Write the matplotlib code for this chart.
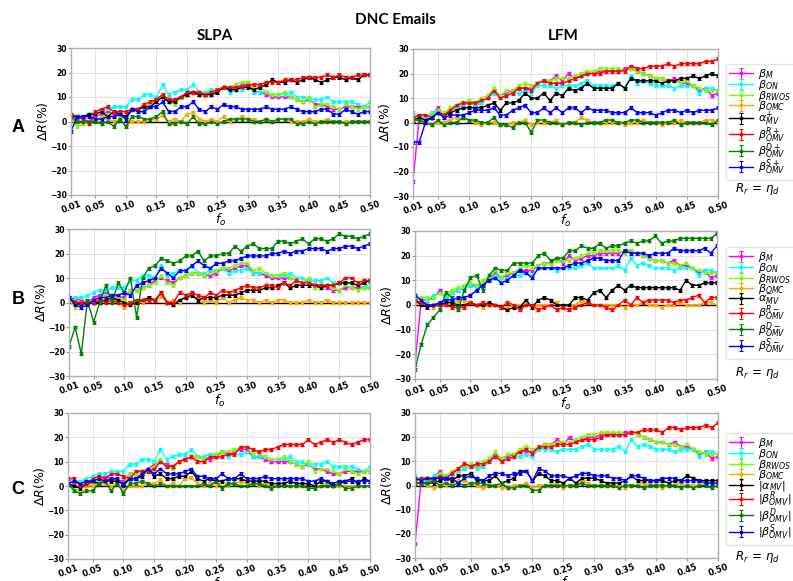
import numpy as np
import matplotlib
matplotlib.use("Agg")
import matplotlib.pyplot as plt

# ---------------------------------------------------------------- data
f_o = np.arange(1, 51) / 100
xticks = [0.01, 0.05, 0.10, 0.15, 0.20, 0.25, 0.30, 0.35, 0.40, 0.45, 0.50]
xtick_labels = ["0.01", "0.05", "0.10", "0.15", "0.20", "0.25",
                "0.30", "0.35", "0.40", "0.45", "0.50"]
yticks = [-30, -20, -10, 0, 10, 20, 30]

# baselines, SLPA column
slpa_M = [2, 1.5, 1, 0, 2, 3, 4, 3, 2.5, 2,
          5, 5, 6, 7, 9, 10, 9, 8, 10, 11,
          12, 12, 11, 11, 12, 14, 13, 14, 15, 15,
          12, 12, 11, 10, 10, 10, 10, 9, 8, 9,
          7, 7, 6, 5, 5, 6, 6, 6, 6, 6]
slpa_ON = [2, 2, 2, 3, 4, 5, 5, 6, 6, 6,
           9, 9, 11, 11, 10, 15, 11, 12, 13, 13,
           15, 12, 12, 13, 13, 14, 12, 13, 13, 14,
           12, 12, 12, 11, 11, 11, 12, 10, 10, 9,
           9, 9, 10, 8, 8, 8, 8, 7, 6, 8]
slpa_RWOS = [1, -2, -1, 0, 1, 2, 3, 2, 2, 1,
             5, 5, 6, 7, 8, 11, 8, 7, 10, 11,
             12, 12, 11, 12, 13, 14, 14, 15, 16, 16,
             13, 14, 12, 11, 11, 12, 10, 9, 8, 10,
             6, 7, 7, 6, 5, 7, 6, 5, 6, 6]
slpa_OMC = [1, 0, 0, 0, 0, 1, 1, 0, 1, -2,
            0, 0, 0, 1, 1, 2.5, 0, 1, 0, 3,
            3.5, 1, 0, 1, 0, 2, 0, 1, 2, 1,
            1, 0, 1, 0, 1, 1, 0, 0, 0, 1,
            0, 0, 1, 0, 0, 0, 0, 0, 0, 0]

# baselines, LFM column
lfm_M = [-24, 2, 2, 3, 6, 3, 5, 6, 7, 8,
         8, 8, 10, 13, 11, 12, 13, 14, 14, 14,
         16, 17, 17, 19, 17, 20, 18, 19, 20, 20,
         21, 21, 21, 21, 22, 22, 21, 20, 19, 18,
         18, 17, 18, 16, 16, 15, 13, 14, 11, 12]
lfm_ON = [4, 2, 2, 4, 5, 3, 5, 6, 7, 8,
          7, 8, 10, 12, 10, 11, 12, 12, 13, 12,
          15, 15, 15, 14, 15, 15, 15, 16, 17, 15,
          15, 15, 15, 16, 14, 19, 16, 17, 16, 15,
          15, 15, 14, 15, 15, 15, 12, 14, 14, 13]
lfm_RWOS = [2, 3, 3, 3, 5, 4, 6, 7, 8, 9,
            8, 10, 11, 14, 11, 13, 13, 15, 16, 15,
            16, 17, 17, 18, 18, 18, 19, 20, 21, 21,
            22, 22, 22, 22, 21, 22, 21, 20, 19, 18,
            18, 17, 17, 16, 17, 15, 14, 13, 13, 13]
lfm_OMC = [1, 1, 0, -1, 0, 0, 1, 2, 2, 1,
           0, -1, 0, 0, -1, -1, 0, 0, 1, -1,
           0, 0, 0, 1, -1, 0, 0, 2, 1, 0,
           0, 0, 0, 0, -1, 0, 0, 1, 0, 0,
           -1, 0, 0, 1, 0, 0, 0, 1, 1, 0]

# row A (positive components)
slpa_A_alpha = [2, 2, 2, 3, 3, 4, 2, 4, 3, 2,
                5, 5, 6, 6, 8, 10, 8, 8, 10, 11,
                12, 11, 11, 11, 12, 14, 13, 13, 14, 14,
                13, 14, 15, 17, 16, 16, 17, 16, 17, 18,
                17, 16, 17, 18, 18, 17, 18, 17, 19, 19]
slpa_A_R = [3, 2, 1, -1, 4, 5, 6, 4, 4, 4,
            5, 5, 7, 8, 9, 11, 9, 9, 10, 12,
            12, 12, 11, 12, 13, 14, 14, 14, 14, 15,
            15, 15, 16, 16, 16, 17, 17, 17, 18, 18,
            18, 18, 19, 18, 19, 18, 18, 19, 19, 19]
slpa_A_D = [2, 0, 0, 0, 0, -1, 0, -2, 1, -2,
            2, 2, 1, 1, 2, 4, -1, -1, 0, -1,
            2, -1, -1, 0, -1, 0, 1, 1, 1, 1,
            0, 0, 1, 0, 1, 1, 1, -1, -1, 0,
            -1, 0, 0, 0, 0, -1, 0, 0, 0, 0]
slpa_A_S = [-4, 2, 2, 2, 1, 1, 2, 2, 3, 1,
            5, 4, 4, 6, 6, 8, 4, 4, 6, 6,
            8, 5, 4, 6, 5, 7, 6, 6, 5, 5,
            5, 5, 6, 5, 5, 5, 6, 5, 4, 4,
            4, 5, 5, 3, 3, 5, 4, 3, 4, 4]
lfm_A_alpha = [1, 2, 1, 2, 4, 3, 4, 5, 6, 6,
               6, 6, 7, 8, 5, 8, 8, 9, 12, 10,
               10, 12, 9, 12, 11, 14, 13, 14, 16, 14,
               14, 14, 14, 16, 14, 18, 17, 17, 17, 17,
               16, 17, 17, 18, 18, 19, 18, 19, 20, 19]
lfm_A_R = [2, 3, 3, 2, 4, 3, 5, 7, 8, 8,
           8, 9, 10, 13, 10, 11, 12, 14, 14, 13,
           16, 17, 16, 16, 16, 17, 18, 19, 20, 20,
           20, 21, 21, 21, 21, 23, 22, 22, 23, 23,
           23, 24, 23, 24, 24, 24, 24, 25, 25, 26]
lfm_A_D = [1, 1, 0, -1, 1, -1, 0, 0, 2, 1,
           1, 0, 0, 2, -1, -1, -2, 0, 0, -4,
           1, 1, 0, 0, -1, 0, 0, -1, 0, 0,
           0, 1, 1, 0, 0, 1, 1, 0, 0, 0,
           0, 0, 1, -1, 0, 0, 0, 0, -1, 1]
lfm_A_S = [-8, -8, 0, 2, 4, 2, 3, 3, 3, 4,
           5, 5, 5, 6, 3, 3, 5, 6, 7, 4,
           4, 6, 4, 6, 4, 6, 6, 4, 6, 5,
           5, 5, 4, 4, 4, 6, 4, 4, 4, 3,
           4, 5, 5, 4, 5, 4, 5, 5, 5, 6]

# row B (negative components)
slpa_B_alpha = [2, 0, -1, 0, 0, 0, 1, 2, 1, 0,
                -1, 0, 1, 2, 1, 4, 0, -1, 1, 2,
                3, 1, 2, 2, 2, 3, 3, 3, 4, 5,
                5, 5, 6, 6, 7, 8, 6, 7, 7, 7,
                7, 6, 7, 7, 8, 8, 8, 7, 8, 9]
slpa_B_R = [2, 0, 0, 0, 0, 1, 0, 1, 0, -1,
            0, 1, 1, 1, 1, 4, 0, 0, 4, 3,
            4, 3, 2, 4, 3, 5, 4, 5, 6, 7,
            6, 6, 7, 7, 6, 8, 7, 9, 8, 8,
            7, 7, 7, 7, 8, 10, 10, 8, 9, 9]
slpa_B_D = [-18, -10, -21, 1, -8, 0, 7, 0, 8, 4,
            10, -6, 10, 14, 15, 18, 17, 16, 17, 19,
            19, 21, 17, 19, 19, 20, 20, 23, 21, 23,
            24, 22, 22, 22, 25, 25, 24, 25, 26, 24,
            26, 26, 25, 26, 28, 27, 27, 26, 27, 28]
slpa_B_S = [2, -1, -2, -1, 1, 2, 2, 3, 3, 4,
            3, 7, 8, 9, 10, 14, 12, 10, 13, 13,
            15, 17, 15, 14, 16, 16, 17, 17, 18, 19,
            19, 19, 19, 20, 20, 21, 20, 21, 21, 22,
            22, 22, 21, 22, 22, 23, 23, 22, 23, 24]
lfm_B_alpha = [2, 0, -1, 0, 0, 1, 1, 0, 0, 1,
               0, 0, 1, 0, -1, -2, -1, -1, 2, -1,
               2, 3, 2, 0, 0, 0, 3, 3, 2, 5,
               6, 3, 6, 8, 6, 8, 7, 7, 7, 7,
               7, 7, 7, 6, 10, 8, 8, 9, 9, 9]
lfm_B_R = [2, 1, 0, 0, 0, 0, -1, -1, -1, 1,
           0, 1, 0, 0, -1, 1, 0, -2, 0, 0,
           -2, -1, 0, -2, -1, -2, -1, 0, 1, 0,
           0, -1, -2, 0, 2, 0, 3, 1, 2, 2,
           2, 2, 1, 2, 2, 3, 4, 1, 3, 3]
lfm_B_D = [-26, -16, -8, -5, -2, 5, 3, -2, 6, 11,
           12, 6, 12, 15, 14, 14, 17, 17, 17, 17,
           20, 21, 18, 19, 19, 22, 22, 24, 23, 23,
           25, 23, 24, 24, 25, 26, 25, 26, 26, 28,
           25, 26, 26, 27, 27, 27, 27, 27, 27, 29]
lfm_B_S = [4, 2, 0, 0, 1, 2, 2, 3, 3, 4,
           6, 8, 10, 11, 9, 10, 12, 14, 13, 11,
           15, 15, 15, 15, 15, 16, 17, 17, 18, 19,
           19, 18, 18, 18, 22, 21, 21, 21, 20, 21,
           21, 21, 23, 22, 22, 22, 22, 23, 21, 24]

# row C (absolute components)
slpa_C_alpha = [1, 0, -1, 1, 2, 1, 2, 2, 2, 1,
                3, 3, 4, 7, 4, 5, 3, 3, 4, 4,
                6, 3, 2, 3, 2, 2, 3, 3, 3, 2,
                2, 2, 2, 1, 1, 1, 2, 1, 1, 1,
                0, 2, 2, 0, 1, 2, 3, 1, 3, 2]
slpa_C_R = [3, 3, 0, 1, 3, 4, 3, 5, 5, 4,
            3, 6, 6, 6, 7, 10, 8, 8, 10, 11,
            12, 10, 10, 12, 12, 12, 13, 13, 16, 16,
            15, 14, 15, 15, 16, 17, 17, 17, 17, 19,
            17, 18, 19, 18, 19, 18, 17, 18, 19, 19]
slpa_C_D = [1, -2, -3, -2, -2, 1, 2, -2, 1, -3,
            1, 1, 2, 1, 0, 1, 0, 0, 0, 0,
            0, 0, 1, 0, 2, -1, 1, 1, 0, 0,
            1, 1, 0, -1, 0, 0, 0, 0, 0, -1,
            -1, 0, 0, 0, 1, -1, -1, 0, 0, 0]
slpa_C_S = [1, 2, 1, 2, 2, 3, 2, 3, 3, 0,
            3, 3, 5, 7, 5, 7, 5, 5, 5, 6,
            7, 4, 4, 3, 3, 5, 3, 3, 5, 3,
            3, 3, 4, 3, 3, 3, 3, 3, 3, 2,
            2, 3, 2, 1, 2, 2, 2, 2, 2, 2]
lfm_C_alpha = [1, 1, 1, 1, 2, 3, 2, 4, 4, 5,
               2, 2, 2, 4, 1, 2, 3, 6, 6, 2,
               5, 4, 2, 2, 1, 3, 1, 3, 3, 3,
               2, 1, 1, 1, 2, 4, 2, 2, 2, 2,
               2, 1, 2, 2, 4, 3, 2, 2, 2, 2]
lfm_C_R = [2, 3, 3, 2, 4, 3, 5, 7, 9, 8,
           9, 9, 10, 12, 10, 11, 12, 14, 15, 13,
           16, 16, 16, 17, 17, 17, 18, 19, 19, 19,
           20, 21, 21, 21, 21, 22, 22, 23, 23, 23,
           22, 24, 24, 23, 24, 24, 24, 25, 24, 26]
lfm_C_D = [1, 1, 1, 2, 0, 1, 0, 1, 0, 1,
           1, 1, 0, 0, 1, -1, -1, 0, 0, -2,
           -2, 0, 0, 0, 0, 0, 0, 1, 0, 0,
           0, 0, 0, -1, 0, 0, 0, -1, 0, 0,
           0, 0, 0, -1, 0, -1, 0, 0, -1, 0]
lfm_C_S = [3, 2, 3, 3, 3, 3, 3, 1, 3, 4,
           3, 2, 4, 5, 5, 4, 5, 5, 6, 2,
           7, 6, 4, 4, 4, 3, 4, 5, 5, 4,
           4, 4, 3, 3, 2, 4, 4, 3, 2, 2,
           3, 3, 3, 2, 2, 2, 2, 1, 1, 1]

err = 0.6

labels_A = [r"$\beta_M$", r"$\beta_{ON}$", r"$\beta_{RWOS}$", r"$\beta_{OMC}$",
            r"$\alpha^{+}_{MV}$", r"$\beta^{R+}_{OMV}$", r"$\beta^{D+}_{OMV}$",
            r"$\beta^{S+}_{OMV}$"]
labels_B = [r"$\beta_M$", r"$\beta_{ON}$", r"$\beta_{RWOS}$", r"$\beta_{OMC}$",
            r"$\alpha^{-}_{MV}$", r"$\beta^{R-}_{OMV}$", r"$\beta^{D-}_{OMV}$",
            r"$\beta^{S-}_{OMV}$"]
labels_C = [r"$\beta_M$", r"$\beta_{ON}$", r"$\beta_{RWOS}$", r"$\beta_{OMC}$",
            r"$|\alpha_{MV}|$", r"$|\beta^{R}_{OMV}|$", r"$|\beta^{D}_{OMV}|$",
            r"$|\beta^{S}_{OMV}|$"]

colors = ["magenta", "cyan", "lawngreen", "orange", "black", "red", "green", "blue"]

slpa_base = [slpa_M, slpa_ON, slpa_RWOS, slpa_OMC]
lfm_base = [lfm_M, lfm_ON, lfm_RWOS, lfm_OMC]

rows = [
    ("A", labels_A,
     slpa_base + [slpa_A_alpha, slpa_A_R, slpa_A_D, slpa_A_S],
     lfm_base + [lfm_A_alpha, lfm_A_R, lfm_A_D, lfm_A_S]),
    ("B", labels_B,
     slpa_base + [slpa_B_alpha, slpa_B_R, slpa_B_D, slpa_B_S],
     lfm_base + [lfm_B_alpha, lfm_B_R, lfm_B_D, lfm_B_S]),
    ("C", labels_C,
     slpa_base + [slpa_C_alpha, slpa_C_R, slpa_C_D, slpa_C_S],
     lfm_base + [lfm_C_alpha, lfm_C_R, lfm_C_D, lfm_C_S]),
]

# ---------------------------------------------------------------- layout (pixels)
W, H = 793, 581
fig = plt.figure(figsize=(W / 100, H / 100), dpi=100)


def px_axes(left, top, right, bottom):
    return fig.add_axes([left / W, 1 - bottom / H, (right - left) / W, (bottom - top) / H])


boxes = [
    ((71, 48, 370, 195), (413, 49, 718, 196)),
    ((69, 229, 370, 376), (415, 231, 717, 379)),
    ((68, 413, 370, 559), (415, 413, 718, 558)),
]
row_label_y = [127, 300, 490]
legend_top_px = [64, 247, 433]
rr_text_y = [189, 373, 557]


def style(ax):
    ax.set_xlim(0.01, 0.50)
    ax.set_ylim(-30, 30)
    ax.set_xticks(xticks)
    ax.set_xticklabels(xtick_labels, rotation=20, fontsize=6, fontweight="bold")
    ax.set_yticks(yticks)
    ax.set_yticklabels([f"{v}".replace("-", "\u2212") for v in yticks],
                       fontsize=5.5, fontweight="bold")
    ax.tick_params(length=2, color="#999999", pad=1)
    ax.grid(True, color="#e3e3e3", lw=0.7)
    ax.set_axisbelow(True)
    for s in ax.spines.values():
        s.set_color("#b0b0b0")
        s.set_linewidth(1.0)
    ax.set_ylabel(r"$\Delta R(\%)$", fontsize=9, labelpad=0)
    ax.set_xlabel(r"$f_o$", fontsize=9, labelpad=-2)


def draw(ax, series):
    ax.axhline(0, color="black", lw=1.0, zorder=1.5)
    handles = []
    for vals, c in zip(series, colors):
        h = ax.errorbar(f_o, vals, yerr=err, color=c, lw=1.0, marker="s", ms=2,
                        capsize=1.5, elinewidth=0.8, capthick=0.8, zorder=2)
        handles.append(h)
    return handles


for (name, labels, s_series, l_series), (bs, bl), ly, lt, ry in zip(
        rows, boxes, row_label_y, legend_top_px, rr_text_y):
    ax_s = px_axes(*bs)
    ax_l = px_axes(*bl)
    draw(ax_s, s_series)
    handles = draw(ax_l, l_series)
    style(ax_s)
    style(ax_l)
    fig.text(18 / W, 1 - ly / H, name, fontsize=13, fontweight="bold",
             family="Liberation Sans", ha="center", va="center")
    left, top, right, bottom = bl
    leg = ax_l.legend(handles, labels, loc="upper left",
                      bbox_to_anchor=((726 - left) / (right - left),
                                      (bottom - lt) / (bottom - top)),
                      fontsize=8, handlelength=2.1, handletextpad=0.45,
                      labelspacing=-0.3, borderpad=0.3, borderaxespad=0,
                      frameon=True, fancybox=True, edgecolor="#dddddd")
    fig.text(757 / W, 1 - ry / H, r"$R_r\,=\,\eta_d$", fontsize=8.5,
             ha="center", va="center")

fig.text(395 / W, 1 - 20 / H, "DNC Emails", fontsize=11, fontweight="bold",
         family="Lato", ha="center", va="center")
fig.text(215 / W, 1 - 36 / H, "SLPA", fontsize=11, fontweight="bold",
         family="Lato", ha="center", va="center")
fig.text(563 / W, 1 - 36 / H, "LFM", fontsize=11, fontweight="bold",
         family="Lato", ha="center", va="center")

fig.savefig("out.png", dpi=100)
